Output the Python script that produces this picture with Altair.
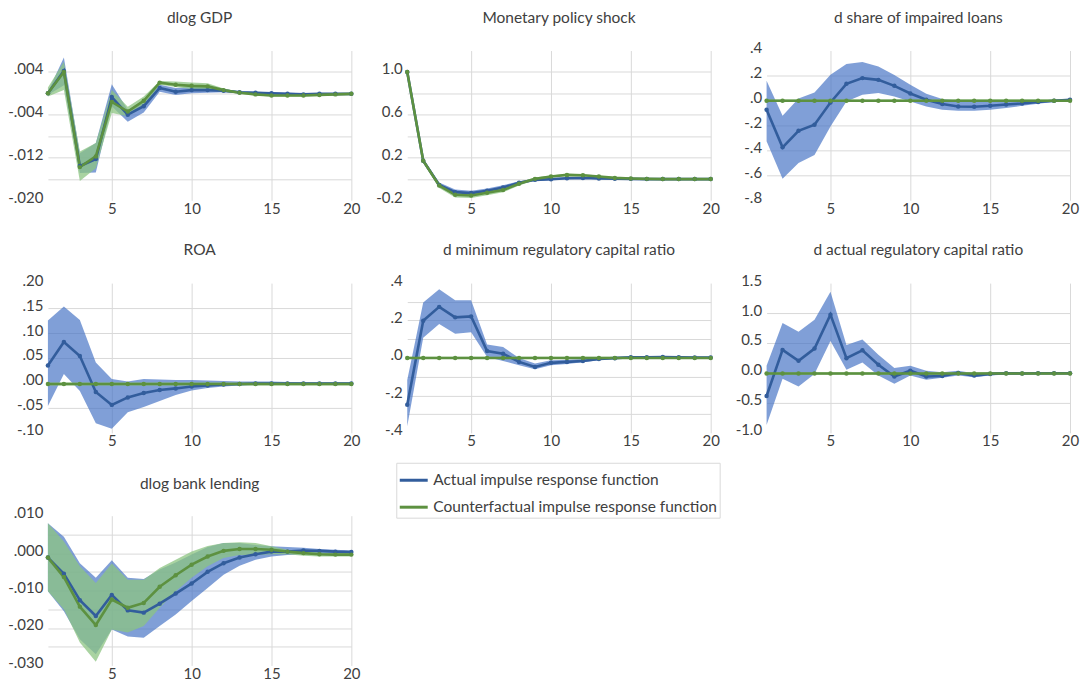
import altair as alt
import pandas as pd

T = list(range(1, 21))
SERIES = ["Actual impulse response function", "Counterfactual impulse response function"]
LINE_COLORS = ["#325d9c", "#5d9140"]
BAND_COLORS = ["rgba(68,114,196,0.68)", "rgba(140,196,130,0.75)"]
FONT = "Lato"
TXT = "#404040"

# ---------------- dlog GDP ----------------
gdp_act = [0.0, 0.0042, -0.0136, -0.0123, -0.0007, -0.0040, -0.0024, 0.0010, 0.0003, 0.0006,
           0.0006, 0.0005, 0.0002, 0.0001, 0.0000, -0.0001, -0.0002, -0.0001, -0.0001, -0.0001]
gdp_act_hi = [0.0003, 0.0067, -0.0112, -0.0093, 0.0017, -0.0031, -0.0012, 0.0016, 0.0010, 0.0012,
              0.0011, 0.0008, 0.0004, 0.0003, 0.0002, 0.0001, 0.0000, 0.0000, 0.0000, 0.0000]
gdp_act_lo = [-0.0003, 0.0015, -0.0149, -0.0148, -0.0024, -0.0053, -0.0036, 0.0003, -0.0003, 0.0000,
              0.0001, 0.0002, 0.0000, -0.0001, -0.0002, -0.0003, -0.0004, -0.0003, -0.0002, -0.0002]
gdp_cf = [0.0, 0.0040, -0.0138, -0.0118, -0.0016, -0.0034, -0.0014, 0.0020, 0.0016, 0.0014,
          0.0013, 0.0006, 0.0001, -0.0002, -0.0004, -0.0004, -0.0004, -0.0003, -0.0002, -0.0001]
gdp_cf_hi = [0.0011, 0.0059, -0.0109, -0.0093, 0.0006, -0.0025, -0.0006, 0.0023, 0.0022, 0.0020,
             0.0019, 0.0009, 0.0003, 0.0000, -0.0002, -0.0002, -0.0002, -0.0001, 0.0000, 0.0000]
gdp_cf_lo = [-0.0006, 0.0006, -0.0164, -0.0140, -0.0037, -0.0043, -0.0024, 0.0016, 0.0012, 0.0008,
             0.0006, 0.0003, -0.0001, -0.0004, -0.0006, -0.0006, -0.0006, -0.0005, -0.0004, -0.0003]
gdp_ticks = [0.008, 0.004, 0.0, -0.004, -0.008, -0.012, -0.016, -0.020]
gdp_labels = ["", ".004", "", "-.004", "", "-.012", "", "-.020"]

# ---------------- Monetary policy shock ----------------
mon_act = [1.0, 0.17, -0.056, -0.124, -0.133, -0.111, -0.080, -0.037, -0.009, -0.003,
           0.006, 0.009, 0.004, 0.001, 0.0, -0.002, -0.002, -0.002, -0.002, -0.002]
mon_act_hi = [1.0, 0.19, -0.035, -0.100, -0.110, -0.090, -0.060, -0.022, 0.002, 0.007,
              0.015, 0.018, 0.012, 0.007, 0.005, 0.003, 0.002, 0.002, 0.002, 0.002]
mon_act_lo = [1.0, 0.15, -0.080, -0.150, -0.158, -0.132, -0.100, -0.052, -0.021, -0.013,
              -0.004, 0.000, -0.004, -0.005, -0.005, -0.007, -0.006, -0.006, -0.006, -0.006]
mon_cf = [1.0, 0.17, -0.062, -0.149, -0.155, -0.130, -0.105, -0.046, 0.000, 0.022,
          0.037, 0.034, 0.022, 0.009, 0.003, 0.000, -0.002, -0.002, -0.002, -0.002]
mon_cf_hi = [1.0, 0.19, -0.040, -0.124, -0.130, -0.107, -0.084, -0.030, 0.012, 0.032,
             0.047, 0.044, 0.031, 0.016, 0.009, 0.005, 0.003, 0.002, 0.002, 0.002]
mon_cf_lo = [1.0, 0.15, -0.085, -0.174, -0.180, -0.153, -0.126, -0.062, -0.012, 0.012,
             0.027, 0.024, 0.013, 0.002, -0.003, -0.005, -0.007, -0.006, -0.006, -0.006]
mon_ticks = [1.2, 1.0, 0.8, 0.6, 0.4, 0.2, 0.0, -0.2]
mon_labels = ["", "1.0", "", "0.6", "", "0.2", "", "-0.2"]

# ---------------- d share of impaired loans ----------------
imp_act = [-0.075, -0.376, -0.243, -0.195, -0.016, 0.133, 0.179, 0.165, 0.117, 0.056,
           0.005, -0.029, -0.048, -0.051, -0.043, -0.032, -0.024, -0.013, -0.003, 0.005]
imp_act_hi = [0.157, -0.123, 0.016, 0.064, 0.205, 0.293, 0.309, 0.272, 0.203, 0.125,
              0.053, 0.011, 0.000, -0.005, -0.003, -0.003, 0.000, 0.000, 0.005, 0.013]
imp_act_lo = [-0.328, -0.627, -0.501, -0.437, -0.208, -0.008, 0.045, 0.059, 0.032, -0.008,
              -0.048, -0.075, -0.083, -0.083, -0.075, -0.061, -0.043, -0.027, -0.013, -0.005]
imp_cf = [-0.003, -0.003, -0.002, -0.002, -0.002, -0.002, -0.002, -0.002, -0.002, -0.002,
          -0.002, -0.002, -0.002, -0.002, -0.002, -0.002, -0.002, -0.002, -0.002, -0.002]
imp_cf_hi = [0.008, 0.008, 0.008, 0.008, 0.008, 0.008, 0.008, 0.008, 0.008, 0.008,
             0.008, 0.008, 0.008, 0.008, 0.008, 0.008, 0.008, 0.008, 0.008, 0.008]
imp_cf_lo = [-0.013, -0.013, -0.012, -0.012, -0.012, -0.012, -0.012, -0.012, -0.012, -0.012,
             -0.012, -0.012, -0.012, -0.012, -0.012, -0.012, -0.012, -0.012, -0.012, -0.012]
imp_ticks = [0.4, 0.2, 0.0, -0.2, -0.4, -0.6, -0.8]
imp_labels = [".4", ".2", ".0", "-.2", "-.4", "-.6", "-.8"]

# ---------------- ROA ----------------
roa_act = [0.035, 0.082, 0.054, -0.018, -0.044, -0.029, -0.020, -0.014, -0.011, -0.007,
           -0.005, -0.003, -0.002, -0.001, -0.001, -0.001, -0.001, -0.001, -0.001, -0.001]
roa_act_hi = [0.125, 0.153, 0.126, 0.041, 0.008, 0.003, 0.008, 0.007, 0.006, 0.006,
              0.005, 0.004, 0.003, 0.003, 0.003, 0.002, 0.001, 0.001, 0.001, 0.001]
roa_act_lo = [-0.046, 0.018, -0.016, -0.081, -0.092, -0.059, -0.048, -0.036, -0.024, -0.015,
              -0.010, -0.007, -0.005, -0.004, -0.003, -0.003, -0.003, -0.003, -0.003, -0.003]
roa_cf = [-0.002, -0.002, -0.002, -0.002, -0.002, -0.002, -0.002, -0.002, -0.002, -0.002,
          -0.002, -0.002, -0.002, -0.002, -0.002, -0.002, -0.002, -0.002, -0.002, -0.002]
roa_cf_hi = [0.001, 0.001, 0.001, 0.001, 0.001, 0.001, 0.001, 0.001, 0.001, 0.001,
             0.001, 0.001, 0.001, 0.001, 0.001, 0.001, 0.001, 0.001, 0.001, 0.001]
roa_cf_lo = [-0.005, -0.005, -0.005, -0.005, -0.005, -0.005, -0.005, -0.005, -0.005, -0.005,
             -0.005, -0.005, -0.005, -0.005, -0.005, -0.005, -0.005, -0.005, -0.005, -0.005]
roa_ticks = [0.20, 0.15, 0.10, 0.05, 0.0, -0.05, -0.10]
roa_labels = [".20", ".15", ".10", ".05", ".00", "-.05", "-.10"]

# ---------------- d minimum regulatory capital ratio ----------------
mrc_act = [-0.250, 0.199, 0.273, 0.217, 0.222, 0.037, 0.023, -0.021, -0.048, -0.026,
           -0.021, -0.016, -0.005, -0.001, 0.004, 0.004, 0.005, 0.004, 0.002, 0.002]
mrc_act_hi = [-0.118, 0.296, 0.367, 0.309, 0.309, 0.072, 0.058, 0.000, -0.030, -0.012,
              -0.009, -0.005, 0.004, 0.005, 0.009, 0.009, 0.009, 0.008, 0.006, 0.006]
mrc_act_lo = [-0.365, 0.108, 0.182, 0.129, 0.138, 0.005, -0.016, -0.039, -0.060, -0.039,
              -0.032, -0.023, -0.012, -0.006, -0.002, -0.001, -0.001, -0.001, -0.002, -0.002]
mrc_cf = [0.0, 0.0, 0.0, 0.0, 0.0, 0.0, 0.0, 0.0, 0.0, 0.0,
          0.0, 0.0, 0.0, 0.0, 0.0, 0.0, 0.0, 0.0, 0.0, 0.0]
mrc_cf_hi = [0.006, 0.006, 0.006, 0.006, 0.006, 0.006, 0.006, 0.006, 0.006, 0.006,
             0.006, 0.006, 0.006, 0.006, 0.006, 0.006, 0.006, 0.006, 0.006, 0.006]
mrc_cf_lo = [-0.006, -0.006, -0.006, -0.006, -0.006, -0.006, -0.006, -0.006, -0.006, -0.006,
             -0.006, -0.006, -0.006, -0.006, -0.006, -0.006, -0.006, -0.006, -0.006, -0.006]
mrc_ticks = [0.4, 0.3, 0.2, 0.1, 0.0, -0.1, -0.2, -0.3, -0.4]
mrc_labels = [".4", "", ".2", "", ".0", "", "-.2", "", "-.4"]

# ---------------- d actual regulatory capital ratio ----------------
arc_act = [-0.385, 0.385, 0.203, 0.407, 0.973, 0.247, 0.379, 0.137, -0.060, 0.038,
           -0.060, -0.050, 0.000, -0.044, -0.016, -0.005, -0.008, -0.005, -0.005, -0.005]
arc_act_hi = [0.120, 0.835, 0.687, 0.890, 1.357, 0.467, 0.560, 0.302, 0.082, 0.120,
              0.038, 0.010, 0.038, -0.005, 0.010, 0.012, 0.008, 0.008, 0.006, 0.006]
arc_act_lo = [-0.868, -0.099, -0.225, -0.016, 0.533, 0.055, 0.176, -0.044, -0.181, -0.044,
              -0.115, -0.082, -0.044, -0.071, -0.044, -0.025, -0.022, -0.018, -0.016, -0.016]
arc_cf = [-0.010, -0.010, -0.010, -0.010, -0.010, -0.010, -0.010, -0.010, -0.010, -0.010,
          -0.010, -0.010, -0.010, -0.010, -0.010, -0.010, -0.010, -0.010, -0.010, -0.010]
arc_cf_hi = [0.012, 0.012, 0.012, 0.012, 0.012, 0.012, 0.012, 0.012, 0.012, 0.012,
             0.012, 0.012, 0.012, 0.012, 0.012, 0.012, 0.012, 0.012, 0.012, 0.012]
arc_cf_lo = [-0.032, -0.032, -0.032, -0.032, -0.032, -0.032, -0.032, -0.032, -0.032, -0.032,
             -0.032, -0.032, -0.032, -0.032, -0.032, -0.032, -0.032, -0.032, -0.032, -0.032]
arc_ticks = [1.5, 1.0, 0.5, 0.0, -0.5, -1.0]
arc_labels = ["1.5", "1.0", "0.5", "0.0", "-0.5", "-1.0"]

# ---------------- dlog bank lending ----------------
bl_act = [-0.0012, -0.0055, -0.0126, -0.0168, -0.0112, -0.0153, -0.0159, -0.0135, -0.0108, -0.0081,
          -0.0050, -0.0027, -0.0012, -0.0003, 0.0004, 0.0004, 0.0007, 0.0006, 0.0004, 0.0003]
bl_act_hi = [0.0080, 0.0044, -0.0027, -0.0066, -0.0019, -0.0066, -0.0069, -0.0044, -0.0025, -0.0004,
             0.0016, 0.0027, 0.0027, 0.0022, 0.0018, 0.0016, 0.0014, 0.0011, 0.0009, 0.0007]
bl_act_lo = [-0.0102, -0.0155, -0.0230, -0.0270, -0.0204, -0.0223, -0.0226, -0.0195, -0.0164, -0.0128,
             -0.0093, -0.0058, -0.0034, -0.0018, -0.0009, -0.0005, -0.0003, -0.0002, -0.0002, -0.0003]
bl_cf = [-0.0012, -0.0064, -0.0143, -0.0192, -0.0124, -0.0146, -0.0133, -0.0090, -0.0059, -0.0031,
         -0.0009, 0.0006, 0.0011, 0.0011, 0.0009, 0.0004, 0.0000, -0.0003, -0.0004, -0.0004]
bl_cf_hi = [0.0080, 0.0031, -0.0035, -0.0080, -0.0028, -0.0071, -0.0071, -0.0040, -0.0018, 0.0004,
            0.0019, 0.0027, 0.0029, 0.0027, 0.0018, 0.0009, 0.0004, 0.0002, 0.0000, 0.0000]
bl_cf_lo = [-0.0102, -0.0150, -0.0239, -0.0290, -0.0204, -0.0212, -0.0195, -0.0146, -0.0102, -0.0066,
            -0.0035, -0.0013, -0.0005, -0.0005, -0.0003, -0.0003, -0.0007, -0.0009, -0.0009, -0.0009]
bl_ticks = [0.010, 0.005, 0.0, -0.005, -0.010, -0.015, -0.020, -0.025, -0.030]
bl_labels = [".010", "", ".000", "", "-.010", "", "-.020", "", "-.030"]

X_TICKS = [5, 10, 15, 20]

PW, PH = 304, 150
YEXT = 43

LEG = alt.Legend(orient="none", legendX=349, legendY=-53, title=None,
                 symbolType="stroke", symbolSize=784, symbolStrokeWidth=3,
                 labelFontSize=15.5, labelFont=FONT, labelColor=TXT, labelLimit=400,
                 strokeColor="#d9d9d9", padding=2, rowPadding=3)


def label_expr(vals, labs):
    parts = [f"abs(datum.value - ({v})) < 1e-9 ? '{l}' : " for v, l in zip(vals, labs) if l]
    return "".join(parts) + "''"


def panel(title, act, act_lo, act_hi, cf, cf_lo, cf_hi, ticks, labels, title_offset, show_legend=False):
    rows = []
    for s, vals, lo, hi in [(SERIES[0], act, act_lo, act_hi), (SERIES[1], cf, cf_lo, cf_hi)]:
        for t, v, l, h in zip(T, vals, lo, hi):
            rows.append({"t": t, "series": s, "value": v, "lo": l, "hi": h})
    df = pd.DataFrame(rows)
    top, bot = max(ticks), min(ticks)
    yscale = alt.Scale(domain=[bot, top], nice=False, zero=False)
    yaxis = alt.Axis(
        values=ticks, labelExpr=label_expr(ticks, labels), title=None, domain=False, ticks=False,
        labelPadding=5, labelFontSize=15, labelFont=FONT, labelColor=TXT, labelOffset=-3,
        labelFlush=False, gridColor="#d9d9d9", minExtent=YEXT, maxExtent=YEXT,
        gridOpacity={"condition": {"test": f"abs(datum.value - ({top})) < 1e-9 || abs(datum.value - ({bot})) < 1e-9", "value": 0}, "value": 1},
    )
    x = alt.X("t:Q", scale=alt.Scale(domain=[1, 20], nice=False),
              axis=alt.Axis(values=X_TICKS, title=None, domain=False, ticks=False, grid=True,
                            gridColor="#d9d9d9", labelFontSize=15, labelFont=FONT, labelColor=TXT,
                            labelPadding=1, labelFlush=False, minExtent=19, maxExtent=19))
    cscale = alt.Scale(domain=SERIES, range=LINE_COLORS)
    line_color = alt.Color("series:N", scale=cscale, legend=LEG if show_legend else None)
    pt_color = alt.Color("series:N", scale=cscale, legend=None)
    base = alt.Chart(df)
    band = base.mark_area(interpolate="linear").encode(
        x=x, y=alt.Y("lo:Q", scale=yscale, axis=yaxis), y2="hi:Q",
        fill=alt.Fill("series:N", scale=alt.Scale(domain=SERIES, range=BAND_COLORS), legend=None),
    )
    line = base.mark_line(strokeWidth=2.6).encode(
        x=x, y=alt.Y("value:Q", scale=yscale, axis=yaxis), color=line_color)
    pts = base.mark_circle(size=20, opacity=1).encode(
        x=x, y=alt.Y("value:Q", scale=yscale, axis=yaxis), color=pt_color)
    return alt.layer(band, line, pts).properties(
        width=PW, height=PH,
        title=alt.TitleParams(title, fontSize=15.5, font=FONT, color=TXT, fontWeight="normal",
                              anchor="middle", frame="group", offset=title_offset),
    )


charts = [
    panel("dlog GDP", gdp_act, gdp_act_lo, gdp_act_hi, gdp_cf, gdp_cf_lo, gdp_cf_hi, gdp_ticks, gdp_labels, 24),
    panel("Monetary policy shock", mon_act, mon_act_lo, mon_act_hi, mon_cf, mon_cf_lo, mon_cf_hi, mon_ticks, mon_labels, 24),
    panel("d share of impaired loans", imp_act, imp_act_lo, imp_act_hi, imp_cf, imp_cf_lo, imp_cf_hi, imp_ticks, imp_labels, 14),
    panel("ROA", roa_act, roa_act_lo, roa_act_hi, roa_cf, roa_cf_lo, roa_cf_hi, roa_ticks, roa_labels, 15),
    panel("d minimum regulatory capital ratio", mrc_act, mrc_act_lo, mrc_act_hi, mrc_cf, mrc_cf_lo, mrc_cf_hi, mrc_ticks, mrc_labels, 15),
    panel("d actual regulatory capital ratio", arc_act, arc_act_lo, arc_act_hi, arc_cf, arc_cf_lo, arc_cf_hi, arc_ticks, arc_labels, 15),
    panel("dlog bank lending", bl_act, bl_act_lo, bl_act_hi, bl_cf, bl_cf_lo, bl_cf_hi, bl_ticks, bl_labels, -30, show_legend=True),
]

chart = alt.concat(*charts, columns=3, bounds="flush",
                   spacing={"row": 83, "column": 56}).properties(
    padding={"left": 5, "top": 10, "right": 5, "bottom": 0},
    background="white",
).resolve_legend(color="independent").configure_view(stroke=None)

chart.save("out.html", embed_options={"renderer": "svg", "actions": False})
